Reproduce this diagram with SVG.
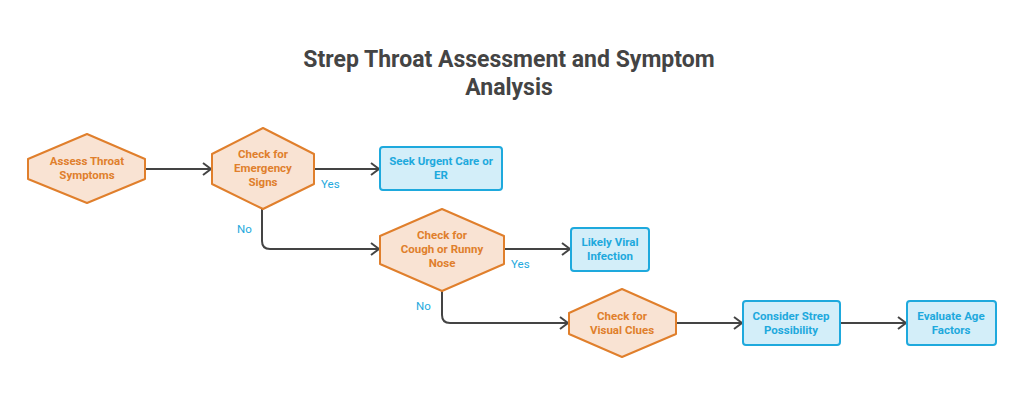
<svg xmlns="http://www.w3.org/2000/svg" width="1024" height="408" viewBox="0 0 1024 408">
<style>
.hex{fill:#f9e3d3;stroke:#e07f2c;stroke-width:2;stroke-linejoin:round}
.box{fill:#d3eef9;stroke:#1ea9dd;stroke-width:2}
.ht{font-family:Roboto,"Liberation Sans",sans-serif;font-weight:bold;font-size:11.5px;fill:#e07f2c;text-anchor:middle}
.bt{font-family:Roboto,"Liberation Sans",sans-serif;font-weight:bold;font-size:11.5px;fill:#1ea9dd;text-anchor:middle}
.lb{font-family:Roboto,"Liberation Sans",sans-serif;font-size:11.5px;fill:#1ea9dd}
.c{fill:none;stroke:#444;stroke-width:2}
.title{font-family:Roboto,"Liberation Sans",sans-serif;font-weight:bold;font-size:23px;fill:#444;text-anchor:middle}
</style>
<defs><marker id="a" viewBox="0 0 10 14" refX="9" refY="7" markerWidth="10" markerHeight="14" markerUnits="userSpaceOnUse" orient="auto"><path d="M1,1 L9,7 L1,13" fill="none" stroke="#444" stroke-width="2"/></marker></defs>
<rect width="1024" height="408" fill="#fff"/>
<text class="title" x="509" y="67">Strep Throat Assessment and Symptom</text>
<text class="title" x="509" y="95">Analysis</text>
<g id="connectors">
<path class="c" d="M145,169 H211" marker-end="url(#a)"/>
<path class="c" d="M314,169 H379" marker-end="url(#a)"/>
<path class="c" d="M262,209 V241 Q262,249 270,249 H379" marker-end="url(#a)"/>
<path class="c" d="M504,249 H570" marker-end="url(#a)"/>
<path class="c" d="M442,291 V315 Q442,323 450,323 H568" marker-end="url(#a)"/>
<path class="c" d="M676,323 H742" marker-end="url(#a)"/>
<path class="c" d="M840,323 H906" marker-end="url(#a)"/>
<text class="lb" x="321" y="188">Yes</text>
<text class="lb" x="237" y="233">No</text>
<text class="lb" x="511" y="268">Yes</text>
<text class="lb" x="416" y="310">No</text>
</g>
<g id="assess"><path class="hex" d="M87,134 L145,159 V179 L87,203 L28,179 V159 Z"/><text class="ht" x="87" y="165">Assess Throat</text><text class="ht" x="87" y="179">Symptoms</text></g>
<g id="emergency"><path class="hex" d="M263,128 L314,154 V184 L263,209 L212,184 V154 Z"/><text class="ht" x="263" y="158">Check for</text><text class="ht" x="263" y="172">Emergency</text><text class="ht" x="263" y="186">Signs</text></g>
<g id="seek"><rect class="box" x="380" y="147" width="122" height="43" rx="3"/><text class="bt" x="441" y="165">Seek Urgent Care or</text><text class="bt" x="441" y="179">ER</text></g>
<g id="cough"><path class="hex" d="M442,209 L504,236 V264 L442,291 L380,264 V236 Z"/><text class="ht" x="442" y="239">Check for</text><text class="ht" x="442" y="253">Cough or Runny</text><text class="ht" x="442" y="267">Nose</text></g>
<g id="viral"><rect class="box" x="571" y="228" width="78" height="43" rx="3"/><text class="bt" x="610" y="246">Likely Viral</text><text class="bt" x="610" y="260">Infection</text></g>
<g id="visual"><path class="hex" d="M622,289 L676,313 V334 L622,357 L569,334 V313 Z"/><text class="ht" x="622" y="320">Check for</text><text class="ht" x="622" y="334">Visual Clues</text></g>
<g id="consider"><rect class="box" x="743" y="301" width="97" height="44" rx="3"/><text class="bt" x="791" y="320">Consider Strep</text><text class="bt" x="791" y="334">Possibility</text></g>
<g id="evaluate"><rect class="box" x="907" y="301" width="89" height="44" rx="3"/><text class="bt" x="951" y="320">Evaluate Age</text><text class="bt" x="951" y="334">Factors</text></g>
</svg>
